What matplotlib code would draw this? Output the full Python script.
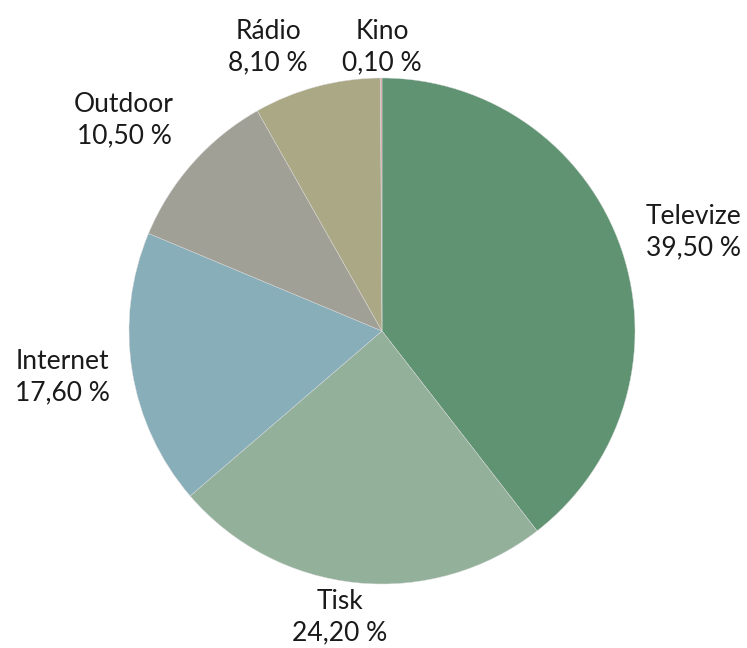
import matplotlib.pyplot as plt

labels = ["Televize", "Tisk", "Internet", "Outdoor", "Rádio", "Kino"]
shares = [39.5, 24.2, 17.6, 10.5, 8.1, 0.1]
colors = ["#5f9372", "#93b09b", "#88aeba", "#a1a097", "#aba886", "#d4a3a8"]

# label centres in pixels (x, y from top)
label_pos = [(694, 232), (340, 617), (62, 377), (124, 120), (268, 47), (382, 47)]

fig = plt.figure(figsize=(7.47, 6.48), dpi=100)
ax = fig.add_axes([0, 0, 1, 1])
ax.set_xlim(0, 747)
ax.set_ylim(0, 648)
ax.set_aspect("equal")
ax.axis("off")

ax.pie(shares, colors=colors, startangle=90, counterclock=False,
       center=(382, 648 - 331), radius=253,
       wedgeprops=dict(edgecolor="#dcdcdc", linewidth=0.3))
ax.set_xlim(0, 747)
ax.set_ylim(0, 648)

for name, val, (px, py) in zip(labels, shares, label_pos):
    txt = name + "\n" + f"{val:.2f}".replace(".", ",") + " %"
    ax.text(px, 648 - py, txt, ha="center", va="center", fontsize=19,
            family="Lato", color="#1a1a1a", linespacing=1.3)

fig.savefig("out.png", dpi=100)
